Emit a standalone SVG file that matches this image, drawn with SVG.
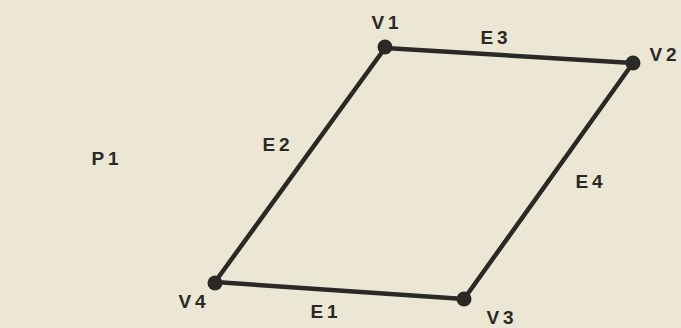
<svg xmlns="http://www.w3.org/2000/svg" width="681" height="328" viewBox="0 0 681 328">
<style>
.lbl{font-family:"Liberation Sans",Arial,sans-serif;font-size:19px;font-weight:bold;fill:#2a2925;letter-spacing:4px;text-anchor:middle;dominant-baseline:central}
.edge{stroke:#2a2925;stroke-width:4.5;stroke-linecap:round;fill:none}
.dot{fill:#2a2925}
</style>
<rect width="681" height="328" fill="#ece6d5"/>
<g id="connectors">
<line id="E3" class="edge" x1="385" y1="48" x2="633" y2="63"/>
<line id="E4" class="edge" x1="633" y1="63" x2="464" y2="299"/>
<line id="E1" class="edge" x1="464" y1="299" x2="215" y2="282"/>
<line id="E2" class="edge" x1="215" y1="282" x2="385" y2="48"/>
</g>
<g id="V1"><circle class="dot" cx="385" cy="47" r="7.5"/><text class="lbl" x="387" y="22">V1</text></g>
<g id="V2"><circle class="dot" cx="633" cy="63" r="7.5"/><text class="lbl" x="665" y="54">V2</text></g>
<g id="V3"><circle class="dot" cx="464" cy="299" r="7.5"/><text class="lbl" x="502" y="317">V3</text></g>
<g id="V4"><circle class="dot" cx="215" cy="283" r="7.5"/><text class="lbl" x="194" y="301">V4</text></g>
<g id="P1"><text class="lbl" x="107" y="158">P1</text></g>
<g id="edge-labels">
<text class="lbl" x="496" y="37">E3</text>
<text class="lbl" x="591" y="181">E4</text>
<text class="lbl" x="326" y="311">E1</text>
<text class="lbl" x="278" y="144">E2</text>
</g>
</svg>
